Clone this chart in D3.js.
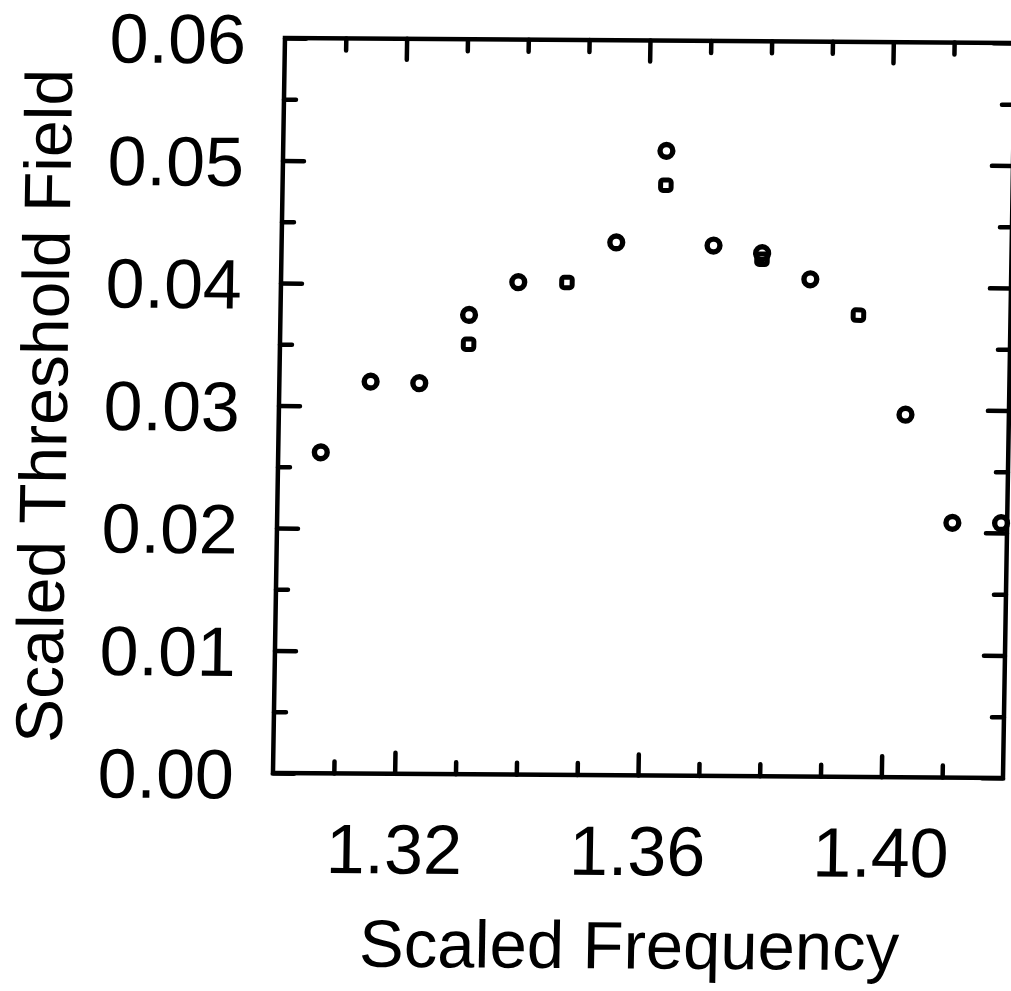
<!DOCTYPE html>
<html>
<head>
<meta charset="utf-8">
<script src="https://cdn.jsdelivr.net/npm/d3@7"></script>
<style>
  html, body { margin: 0; padding: 0; background: #fff; }
  svg { display: block; font-family: "Liberation Sans", Arial, sans-serif; }
</style>
</head>
<body>
<div id="chart"></div>
<script>
// Scaled threshold field vs scaled frequency (circles and squares)
const circleFreq  = [1.307, 1.315, 1.323, 1.331, 1.339, 1.355, 1.363, 1.371, 1.379, 1.387, 1.403, 1.411, 1.419];
const circleField = [0.0262, 0.0320, 0.0319, 0.0375, 0.0402, 0.0435, 0.0510, 0.0433, 0.0427, 0.0406, 0.0296, 0.0208, 0.0208];
const squareFreq  = [1.331, 1.347, 1.363, 1.379, 1.395];
const squareField = [0.0351, 0.0402, 0.0482, 0.0422, 0.0377];

const xMajor = [1.32, 1.36, 1.40];
const xMinor = [1.31, 1.33, 1.34, 1.35, 1.37, 1.38, 1.39, 1.41];
const yMajor = [0.00, 0.01, 0.02, 0.03, 0.04, 0.05, 0.06];
const yMinor = [0.005, 0.015, 0.025, 0.035, 0.045, 0.055];

const W = 1011, H = 991;
const margin = { top: 38, right: 8, bottom: 218, left: 273 };
const iw = W - margin.left - margin.right;
const ih = H - margin.top - margin.bottom;
const FS = 70;

const svg = d3.select('#chart').append('svg')
  .attr('width', W).attr('height', H);

// the original is a slightly tilted scan; mimic the skew
const root = svg.append('g')
  .attr('transform', 'matrix(1,0.00685,-0.01633,1,12.6,-1.87)');

const g = root.append('g')
  .attr('transform', `translate(${margin.left},${margin.top})`);

const x = d3.scaleLinear().domain([1.30, 1.42]).range([0, iw]);
const y = d3.scaleLinear().domain([0, 0.06]).range([ih, 0]);

function styleAxis(sel) {
  sel.select('.domain').remove();
  sel.selectAll('line').attr('stroke', '#000').attr('stroke-width', 4.5)
    .attr('stroke-linecap', 'round');
  sel.selectAll('text').attr('fill', '#000').attr('font-size', FS + 'px');
}

// bottom
g.append('g').attr('transform', `translate(0,${ih})`)
  .call(d3.axisBottom(x).tickValues(xMajor).tickSize(-21).tickPadding(50)
    .tickFormat(d3.format('.2f')))
  .call(styleAxis);
g.append('g').attr('transform', `translate(0,${ih})`)
  .call(d3.axisBottom(x).tickValues(xMinor).tickSize(-12).tickFormat(''))
  .call(styleAxis);
// top
g.append('g')
  .call(d3.axisTop(x).tickValues(xMajor).tickSize(-21).tickFormat(''))
  .call(styleAxis);
g.append('g')
  .call(d3.axisTop(x).tickValues(xMinor).tickSize(-12).tickFormat(''))
  .call(styleAxis);
// left
g.append('g')
  .call(d3.axisLeft(y).tickValues(yMajor).tickSize(-21).tickPadding(39)
    .tickFormat(d3.format('.2f')))
  .call(styleAxis)
  .selectAll('text').attr('dy', '0.36em');
g.append('g')
  .call(d3.axisLeft(y).tickValues(yMinor).tickSize(-12).tickFormat(''))
  .call(styleAxis);
// right
g.append('g').attr('transform', `translate(${iw},0)`)
  .call(d3.axisRight(y).tickValues(yMajor).tickSize(-21).tickFormat(''))
  .call(styleAxis);
g.append('g').attr('transform', `translate(${iw},0)`)
  .call(d3.axisRight(y).tickValues(yMinor).tickSize(-12).tickFormat(''))
  .call(styleAxis);

// frame
g.append('rect')
  .attr('x', 0).attr('y', 0).attr('width', iw).attr('height', ih)
  .attr('fill', 'none').attr('stroke', '#000').attr('stroke-width', 4.5);

// circles
g.selectAll('.pt-circle')
  .data(circleFreq.map((f, i) => ({ f, v: circleField[i] })))
  .join('circle')
  .attr('class', 'pt-circle')
  .attr('cx', d => x(d.f)).attr('cy', d => y(d.v))
  .attr('r', 6.4)
  .attr('fill', 'none').attr('stroke', '#000').attr('stroke-width', 5.4);

// squares
const sq = 10.5;
g.selectAll('.pt-square')
  .data(squareFreq.map((f, i) => ({ f, v: squareField[i] })))
  .join('rect')
  .attr('class', 'pt-square')
  .attr('x', d => x(d.f) - sq / 2).attr('y', d => y(d.v) - sq / 2)
  .attr('width', sq).attr('height', sq).attr('rx', 2.5)
  .attr('fill', 'none').attr('stroke', '#000').attr('stroke-width', 5);

// axis titles
root.append('text')
  .attr('x', margin.left + iw / 2 - 6).attr('y', 966)
  .attr('text-anchor', 'middle').attr('font-size', '67px').attr('fill', '#000')
  .text('Scaled Frequency');

root.append('text')
  .attr('transform', `translate(61,${margin.top + ih / 2 + 2}) rotate(-90)`)
  .attr('text-anchor', 'middle').attr('font-size', '66px').attr('fill', '#000')
  .text('Scaled Threshold Field');
</script>
</body>
</html>
